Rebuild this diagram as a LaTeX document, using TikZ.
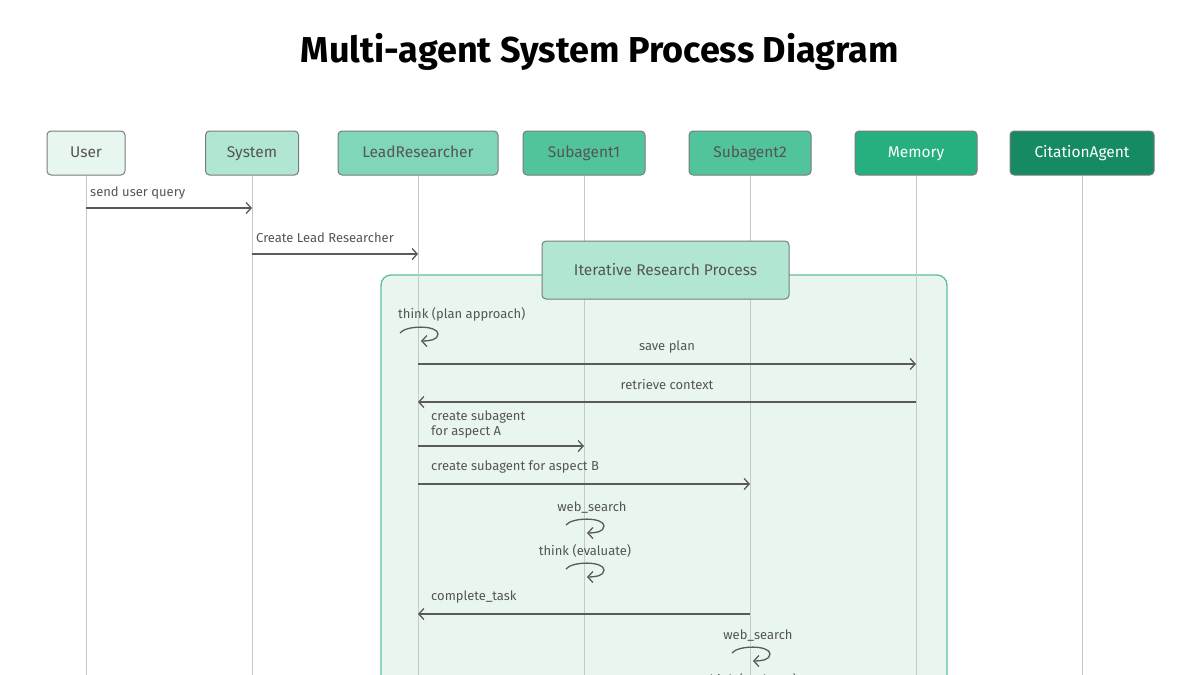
\documentclass[tikz,border=0pt]{standalone}
\usepackage{fontspec}
\setmainfont{Fira Sans}
\usetikzlibrary{arrows.meta}
\definecolor{txt}{HTML}{555555}
\definecolor{ln}{HTML}{5A5A5A}
\definecolor{life}{HTML}{C8C8C8}
\definecolor{grpfill}{HTML}{E9F6F0}
\definecolor{grpline}{HTML}{5CBF98}
\definecolor{c1}{HTML}{E8F6F0}
\definecolor{c2}{HTML}{B0E6D2}
\definecolor{c3}{HTML}{80D6B8}
\definecolor{c4}{HTML}{52C49C}
\definecolor{c5}{HTML}{26B07F}
\definecolor{c6}{HTML}{168A62}
\begin{document}
\begin{tikzpicture}[x=1pt,y=-1pt,
 hdr/.style={draw=ln!80,rounded corners=4pt,minimum height=44pt,inner sep=0pt,font=\fontsize{15.5}{16}\selectfont,line width=1pt,text height=11pt,text depth=3pt},
 msg/.style={draw=ln,line width=1.3pt,-{Straight Barb[length=5pt,width=11pt]}},
 lbl/.style={font=\fontsize{13}{15}\selectfont,text=txt,inner sep=0pt},
 lifeline/.style={draw=life,line width=1pt}]
\useasboundingbox (0,0) rectangle (1200,675);
\clip (0,0) rectangle (1200,675);
\node[font=\bfseries\fontsize{36}{40}\selectfont] (title) at (600,52) {Multi-agent System Process Diagram};
% group box
\draw[fill=grpfill,draw=grpline,line width=1.3pt,rounded corners=10pt] (381,720) -- (381,275) -- (947,275) -- (947,720);
% headers
\node[hdr,fill=c1,text=txt,minimum width=78pt] (user) at (86,153) {User};
\node[hdr,fill=c2,text=txt,minimum width=93pt] (sys) at (252,153) {System};
\node[hdr,fill=c3,text=txt,minimum width=160pt] (lead) at (418,153) {LeadResearcher};
\node[hdr,fill=c4,text=txt,minimum width=122pt] (sa1) at (584,153) {Subagent1};
\node[hdr,fill=c4,text=txt,minimum width=122pt] (sa2) at (750,153) {Subagent2};
\node[hdr,fill=c5,text=white,minimum width=122pt] (mem) at (916,153) {Memory};
\node[hdr,fill=c6,text=white,minimum width=144pt] (cit) at (1082,153) {CitationAgent};
% lifelines
\foreach \n in {user,sys,lead,sa1,sa2,mem,cit}{
  \coordinate (\n-end) at (\n |- 0,700);
  \draw[lifeline] (\n.south) -- (\n-end);}
% group label
\node[draw=ln!80,fill=c2,rounded corners=4pt,minimum width=247pt,minimum height=58pt,line width=1pt,font=\fontsize{15.5}{16}\selectfont,text=txt] (grp) at (665.5,270) {Iterative Research Process};
% messages
\newcommand{\msgto}[4]{\coordinate (a#4) at (#1 |- 0,#3); \coordinate (b#4) at (#2 |- 0,#3); \draw[msg] (a#4) -- (b#4);}
\newcommand{\selfloop}[3]{\coordinate (s#3) at (#1 |- 0,#2);
 \draw[draw=ln,line width=1.3pt,-{Straight Barb[length=5pt,width=11pt]}] ([shift={(-18,3)}]s#3) .. controls +(6,-8) and +(0,-9) .. ([shift={(20,4)}]s#3) .. controls +(0,6) and +(8,0) .. ([shift={(3,11)}]s#3);}
\node[lbl,anchor=west] (l1) at (90,193) {send user query};
\msgto{user}{sys}{208}{1}
\node[lbl,anchor=west] (l2) at (256,238) {Create Lead Researcher};
\msgto{sys}{lead}{254}{2}
\node[lbl,anchor=west] (l3) at (398,314) {think (plan approach)};
\selfloop{lead}{330}{1}
\node[lbl] (l4) at (667,347) {save plan};
\msgto{lead}{mem}{364}{3}
\node[lbl] (l5) at (667,385) {retrieve context};
\msgto{mem}{lead}{402}{4}
\node[lbl,anchor=west,align=left] (l6) at (431,425) {create subagent\\for aspect A};
\msgto{lead}{sa1}{446}{5}
\node[lbl,anchor=west] (l7) at (431,467) {create subagent for aspect B};
\msgto{lead}{sa2}{484}{6}
\node[lbl] (l8) at (592,508) {web\_search};
\selfloop{sa1}{522}{2}
\node[lbl] (l9) at (585,551) {think (evaluate)};
\selfloop{sa1}{566}{3}
\node[lbl,anchor=west] (l10) at (431,597) {complete\_task};
\msgto{sa2}{lead}{614}{7}
\node[lbl] (l11) at (758,636) {web\_search};
\selfloop{sa2}{650}{4}
\node[lbl] (l12) at (751,680) {think (evaluate)};
\end{tikzpicture}
\end{document}
